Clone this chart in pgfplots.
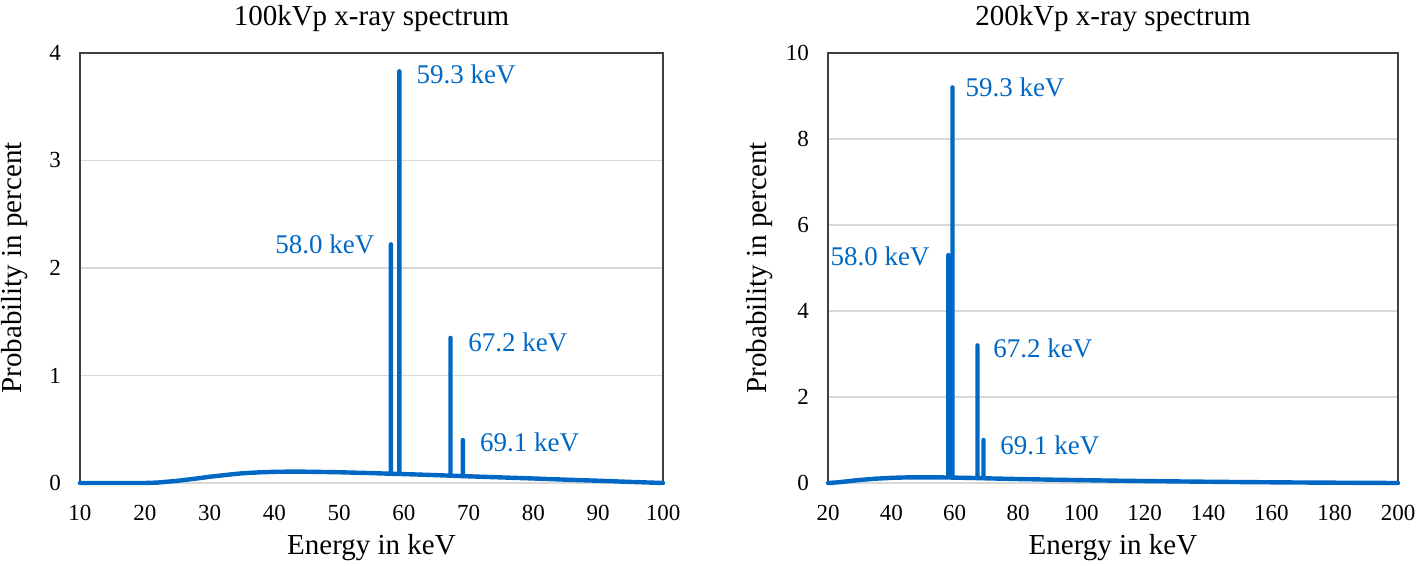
\documentclass[border=0pt]{standalone}
\usepackage{pgfplots}
\pgfplotsset{compat=1.18}
\usepackage{fontspec}
\setmainfont{Liberation Serif}
\definecolor{specblue}{RGB}{0,104,196}
\definecolor{gridgray}{RGB}{217,217,217}
\definecolor{boxgray}{RGB}{64,64,64}

\pgfplotstableread{
x y
10 0
15 0
20 0
22 0.004
25 0.02
28 0.042
30 0.058
33 0.078
35 0.09
38 0.1
40 0.104
43 0.106
45 0.105
50 0.1
55 0.092
58.0 0.086
58.0 2.22
58.0 0.086
59.3 0.084
59.3 3.83
59.3 0.084
62 0.079
65 0.073
67.2 0.068
67.2 1.35
67.2 0.068
69.1 0.064
69.1 0.40
69.1 0.064
72 0.058
75 0.052
80 0.042
85 0.031
90 0.021
95 0.01
100 0
}\lowtable

\pgfplotstableread{
x y
20 0
23 0.015
25 0.03
28 0.055
30 0.07
35 0.1
40 0.12
45 0.13
50 0.132
55 0.13
58.0 0.128
58.0 5.3
58.0 0.128
59.3 0.126
59.3 9.2
59.3 0.126
62 0.122
65 0.118
67.2 0.114
67.2 3.2
67.2 0.114
69.1 0.11
69.1 1.0
69.1 0.11
75 0.1
80 0.092
90 0.078
100 0.066
110 0.055
120 0.045
130 0.037
140 0.029
150 0.022
160 0.016
170 0.011
180 0.007
190 0.003
200 0
}\hightable

\tikzset{
  peaklabel/.style={text=specblue, inner sep=0pt, font=\fontsize{13.5}{16}\selectfont},
  specline/.style={specblue, line width=2.2pt, line join=round, line cap=round},
}

\pgfplotsset{
  specaxis/.style={
    scale only axis,
    anchor=south west,
    height=215pt,
    axis line style={draw=none},
    ymajorgrids,
    grid style={gridgray, line width=0.6pt},
    major tick length=0pt,
    tick style={draw=none},
    clip=false,
    /pgf/number format/assume math mode=true,
    ticklabel style={font=\fontsize{11.5}{13}\selectfont},
    xticklabel style={yshift=-7.5pt},
    yticklabel style={xshift=-6pt},
    title style={at={(axis description cs:0.5,1)}, anchor=center, yshift=11pt, font=\fontsize{14.5}{17}\selectfont},
    xlabel style={at={(axis description cs:0.5,0)}, anchor=center, yshift=-32.5pt, font=\fontsize{14.5}{17}\selectfont},
    ylabel style={anchor=center, font=\fontsize{14.5}{17}\selectfont},
    xlabel={Energy in keV},
    ylabel={Probability in percent},
  },
}

\begin{document}
\begin{tikzpicture}
\path[use as bounding box] (-40pt,-41.5pt) rectangle (668pt,241.5pt);

\begin{axis}[specaxis,
  at={(0pt,0pt)},
  width=291.5pt,
  xmin=10, xmax=100, ymin=0, ymax=4,
  xtick={10,20,...,100},
  ytick={0,1,2,3,4},
  title={100kVp x-ray spectrum},
  ylabel style={at={(axis description cs:-0.1115,0.5)}},
]
\draw[boxgray, line width=0.7pt] (rel axis cs:0,0) -- (rel axis cs:0,1) -- (rel axis cs:1,1) -- (rel axis cs:1,0);
\addplot[specline] table[x=x, y=y] {\lowtable};
\node[peaklabel, anchor=west] at (axis cs:61.9,3.80) {59.3 keV};
\node[peaklabel, anchor=east] at (axis cs:55.5,2.22) {58.0 keV};
\node[peaklabel, anchor=west] at (axis cs:69.9,1.31) {67.2 keV};
\node[peaklabel, anchor=west] at (axis cs:71.7,0.38) {69.1 keV};
\end{axis}

\begin{axis}[specaxis,
  at={(374pt,0pt)},
  width=285pt,
  xmin=20, xmax=200, ymin=0, ymax=10,
  xtick={20,40,...,200},
  ytick={0,2,4,6,8,10},
  title={200kVp x-ray spectrum},
  ylabel style={at={(axis description cs:-0.1193,0.5)}},
]
\draw[boxgray, line width=0.7pt] (rel axis cs:0,0) -- (rel axis cs:0,1) -- (rel axis cs:1,1) -- (rel axis cs:1,0);
\addplot[specline] table[x=x, y=y] {\hightable};
\node[peaklabel, anchor=west] at (axis cs:63.3,9.19) {59.3 keV};
\node[peaklabel, anchor=east] at (axis cs:52.2,5.26) {58.0 keV};
\node[peaklabel, anchor=west] at (axis cs:72.1,3.14) {67.2 keV};
\node[peaklabel, anchor=west] at (axis cs:74.3,0.88) {69.1 keV};
\end{axis}
\end{tikzpicture}
\end{document}
